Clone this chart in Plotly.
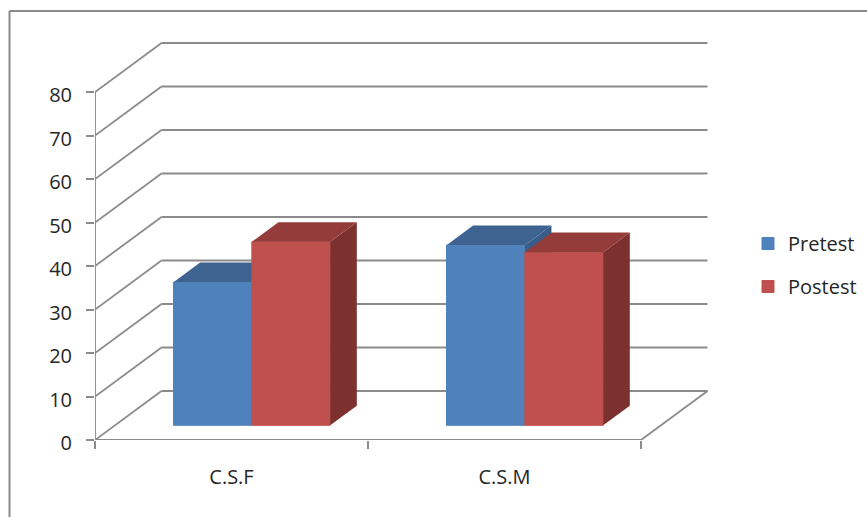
import plotly.graph_objects as go

# Chart data
categories = ["C.S.F", "C.S.M"]
pretest = [32.9, 41.4]
postest = [42.2, 39.8]
y_ticks = [0, 10, 20, 30, 40, 50, 60, 70, 80]

# Page and plot geometry
W, H = 867, 517
LEFT, RIGHT, BOTTOM, TOP = 95, 712, 440, 40
CAT_PX = 273.0
UNIT_PX = 4.35
X_MAX = (RIGHT - LEFT) / CAT_PX
Y_MAX = (BOTTOM - TOP) / UNIT_PX

# Oblique projection: how far a point moves per unit of chart depth
DEPTH_X = 66.5 / CAT_PX
DEPTH_Y = 49.0 / UNIT_PX
BAR_FRONT, BAR_BACK = 0.3, 0.7
BAR_W = 0.287
BAR_GAP = 0.2145

GRID = "#8b8b8b"
TEXT = "#262626"
FONT = "Open Sans"


def project(x, y, depth):
    return x + depth * DEPTH_X, y + depth * DEPTH_Y


def seg(p, q, width=1.8):
    return dict(type="line", xref="x", yref="y", layer="below",
                x0=p[0], y0=p[1], x1=q[0], y1=q[1],
                line=dict(color=GRID, width=width))


# Walls and floor of the 3D frame
shapes = []
for v in y_ticks:
    shapes.append(seg(project(0, v, 0), project(0, v, 1)))
    shapes.append(seg(project(0, v, 1), project(len(categories), v, 1)))
shapes.append(seg((0, 0), (0, y_ticks[-1])))
shapes.append(seg((0, 0), (len(categories), 0)))
shapes.append(seg((len(categories), 0), project(len(categories), 0, 1)))

# Outer chart border, running off the page on the right and at the bottom
BORDER_X, BORDER_Y = 9.5 / W, 1 - 11 / H
shapes.append(dict(type="line", xref="paper", yref="paper", x0=BORDER_X, x1=1,
                   y0=BORDER_Y, y1=BORDER_Y, line=dict(color=GRID, width=2)))
shapes.append(dict(type="line", xref="paper", yref="paper", x0=BORDER_X, x1=BORDER_X,
                   y0=0, y1=BORDER_Y, line=dict(color=GRID, width=2)))

fig = go.Figure()


def add_series(name, values, slot, front, top, side, xa, ya):
    """One series: a real bar for the front face, polygons for top and side."""
    lefts = [i + project(0, 0, BAR_FRONT)[0] + BAR_GAP + slot * BAR_W
             for i in range(len(values))]
    floor = project(0, 0, BAR_FRONT)[1]
    for left, v in zip(lefts, values):
        right = left + BAR_W
        ceil = floor + v
        dx = (BAR_BACK - BAR_FRONT) * DEPTH_X
        dy = (BAR_BACK - BAR_FRONT) * DEPTH_Y
        fig.add_trace(go.Scatter(
            x=[right, right + dx, right + dx, right, right],
            y=[floor, floor + dy, ceil + dy, ceil, floor],
            fill="toself", fillcolor=side, mode="none", showlegend=False,
            hoverinfo="skip", xaxis=xa, yaxis=ya))
        fig.add_trace(go.Scatter(
            x=[left, left + dx, right + dx, right, left],
            y=[ceil, ceil + dy, ceil + dy, ceil, ceil],
            fill="toself", fillcolor=top, mode="none", showlegend=False,
            hoverinfo="skip", xaxis=xa, yaxis=ya))
    fig.add_trace(go.Bar(
        name=name, x=[l + BAR_W / 2 for l in lefts], y=values, base=floor,
        width=BAR_W, marker=dict(color=front, line=dict(width=1, color=front)),
        legendgroup=name, xaxis=xa, yaxis=ya))


add_series("Pretest", pretest, 0, "#4f81bd", "#3e6390", "#385d8a", "x", "y")
# The second series sits on an overlaid axis pair so it paints over the first
add_series("Postest", postest, 1, "#c0504d", "#943c3a", "#7c312f", "x2", "y2")

x_domain = [LEFT / W, RIGHT / W]
y_domain = [1 - BOTTOM / H, 1 - TOP / H]

fig.update_layout(
    width=W, height=H,
    margin=dict(l=0, r=0, t=0, b=0, autoexpand=False),
    paper_bgcolor="white", plot_bgcolor="rgba(0,0,0,0)",
    barmode="overlay",
    shapes=shapes,
    font=dict(family=FONT, color=TEXT),
    xaxis=dict(
        domain=x_domain, range=[0, X_MAX], automargin=False,
        showgrid=False, zeroline=False, showline=False,
        tickmode="array",
        tickvals=[i + 0.5 for i in range(len(categories))], ticktext=categories,
        ticks="", ticklabelstandoff=23, tickfont=dict(size=20, color=TEXT),
        minor=dict(tickmode="array", tickvals=list(range(len(categories) + 1)),
                   ticks="outside", ticklen=8, tickwidth=1.8, tickcolor=GRID),
    ),
    yaxis=dict(
        domain=y_domain, range=[0, Y_MAX], automargin=False,
        showgrid=False, zeroline=False, showline=False,
        tickmode="array", tickvals=y_ticks,
        ticks="outside", ticklen=8, tickwidth=1.8, tickcolor=GRID,
        ticklabelstandoff=10, ticklabelshift=3, tickfont=dict(size=20, color=TEXT),
    ),
    xaxis2=dict(domain=x_domain, range=[0, X_MAX], overlaying="x", visible=False),
    yaxis2=dict(domain=y_domain, range=[0, Y_MAX], overlaying="y", visible=False),
    legend=dict(x=748 / W, xanchor="left", y=1 - 224 / H, yanchor="top",
                font=dict(size=20, color=TEXT), tracegroupgap=14,
                bgcolor="rgba(0,0,0,0)", traceorder="grouped"),
)

fig.write_html("out.html", config=dict(displayModeBar=False))
